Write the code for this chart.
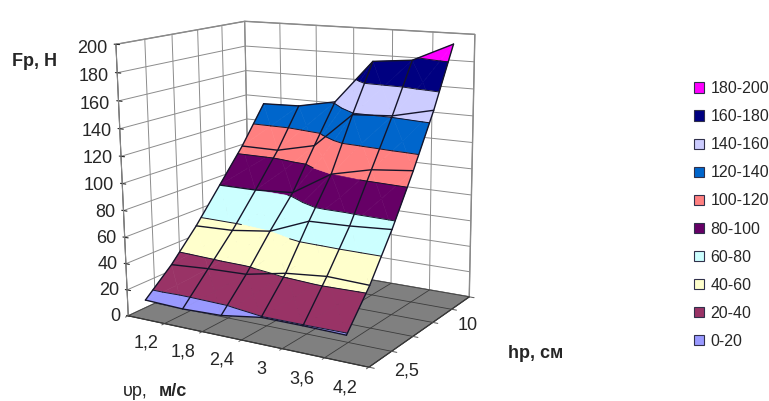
import numpy as np, seaborn as sns, matplotlib
matplotlib.use('Agg')
import matplotlib.pyplot as plt
from matplotlib.patches import Patch
from mpl_toolkits.mplot3d import proj3d
from mpl_toolkits.mplot3d.art3d import Poly3DCollection

speed_labels = ['1,2', '1,8', '2,4', '3', '3,6', '4,2']
depth_labels = ['2,5', '5', '7,5', '10', '12,5', '15']
force_ticks = [0, 20, 40, 60, 80, 100, 120, 140, 160, 180, 200]
force_h25 = [15, 14, 15, 19.5, 19.5, 19]
force_h50 = [33, 35, 36, 42, 45, 44]
force_h75 = [55, 56, 60, 72, 73, 75]
force_h100 = [80, 80, 82, 100, 107, 110]
force_h125 = [105, 105, 112, 139, 141, 148]
force_h150 = [134, 135, 141, 175, 178, 192]
band_labels = ['0-20','20-40','40-60','60-80','80-100','100-120','120-140','140-160','160-180','180-200']
band_colors = ['#9999FF','#993366','#FFFFCC','#CCFFFF','#660066','#FF8080','#0066CC','#CCCCFF','#000080','#FF00FF']

sns.set_style('white')
plt.rcParams['font.family'] = ['Liberation Sans', 'DejaVu Sans']
W, H = 769, 401
fig = plt.figure(figsize=(W/100, H/100), dpi=100)
ax = fig.add_subplot(projection='3d', computed_zorder=False)
ax.set_xlim(-0.5, 5.5); ax.set_ylim(0, 5); ax.set_zlim(0, 200)

# camera
ax.view_init(13.34, -58.62, 0.65)
ax.set_proj_type('persp', focal_length=0.529)
ax.set_box_aspect((1.001, 0.809, 1))
s, tx, ty = 2344.7, 300.3, 176.1
vl = ax.viewLim
S = s*vl.width
ax.set_position([(tx+s*vl.x0)/W, (H-ty+s*vl.y0)/H, S/W, S/H])
ax.patch.set_alpha(0)

def label3d(x, y, z, txt, **kw):
    px, py, _ = proj3d.proj_transform(x, y, z, ax.get_proj())
    ax.text2D(px, py, txt, transform=ax.transData, fontsize=13, zorder=8, **kw)

# panes
for a_ in (ax.xaxis, ax.yaxis):
    a_.set_pane_color((1, 1, 1, 1)); a_.pane.set_edgecolor('#808080')
ax.zaxis.set_pane_color('#808080'); ax.zaxis.pane.set_edgecolor('#808080')
ax.set_xticks(range(6), ['']*6)
ax.set_yticks(range(6), ['']*6)
ax.set_zticks(force_ticks, ['']*len(force_ticks))
ax.tick_params(axis='x', length=0); ax.tick_params(axis='y', length=0)
ax.xaxis._axinfo['tick'].update(inward_factor=0, outward_factor=0)
ax.yaxis._axinfo['tick'].update(inward_factor=0, outward_factor=0)
ax.zaxis._axinfo['juggled'] = (1, 2, 0)
ax.xaxis._axinfo['grid'].update(linewidth=0); ax.yaxis._axinfo['grid'].update(linewidth=0)
ax.zaxis._axinfo['grid'].update(color='#8c8c8c', linewidth=.7)
for i_, lab in enumerate(speed_labels):
    label3d(i_-.03, 0, -18.5, lab, ha='center', va='center')
for j_ in (0, 3):
    label3d(5.5+.726, j_+.203, 0, depth_labels[j_], ha='center', va='center')
for z_ in force_ticks:
    label3d(-.5-.143, -.103, z_*.985, str(z_), ha='right', va='center')
x_edges = np.arange(-.5, 6)
y_edges = np.arange(0, 6)
for e_ in x_edges:
    ax.plot([e_, e_], [5, 5], [0, 200], color='#8c8c8c', lw=.7, zorder=1)
    ax.plot([e_, e_], [0, 5], [0, 0], color='#3c3c3c', lw=.6, zorder=1)
    ax.plot([e_, e_], [0, -.1], [0, 0], color='#555555', lw=.7, zorder=1)
for e_ in y_edges:
    ax.plot([-.5, -.5], [e_, e_], [0, 200], color='#8c8c8c', lw=.7, zorder=1)
    ax.plot([-.5, 5.5], [e_, e_], [0, 0], color='#3c3c3c', lw=.6, zorder=1)
    ax.plot([5.5, 5.62], [e_, e_], [0, 0], color='#555555', lw=.7, zorder=1)

# surface bands
G = np.array([force_h25, force_h50, force_h75, force_h100, force_h125, force_h150], float)
levels = np.arange(0, 201, 20)
def clip(poly, lo, hi):
    for lim, sign in ((lo, 1), (hi, -1)):
        out = []
        for i in range(len(poly)):
            a_, b_ = poly[i], poly[(i+1) % len(poly)]
            da, db = sign*(a_[2]-lim), sign*(b_[2]-lim)
            if da >= 0: out.append(a_)
            if da*db < 0: out.append(a_+(b_-a_)*da/(da-db))
        poly = out
        if not poly: return []
    return poly
tris = []
for j in range(5):
    for i in range(5):
        c = [np.array([i+di, j+dj, G[j+dj, i+di]]) for di, dj in ((0,0),(1,0),(1,1),(0,1))]
        m = sum(c)/4
        for k in range(4):
            tris.append([c[k], c[(k+1) % 4], m])
polys, cols = [], []
for k in range(10):
    for t in tris:
        pl = clip(t, levels[k], levels[k+1])
        if len(pl) >= 3:
            polys.append(pl); cols.append(band_colors[k])
ax.add_collection3d(Poly3DCollection(polys, facecolors=cols, edgecolors=cols, linewidths=.4, zorder=5, shade=False))
line = '#15152a'
for lev in levels[1:]:
    for t in tris:
        pts = []
        for q in range(3):
            a_, b_ = t[q], t[(q+1) % 3]
            if (a_[2]-lev)*(b_[2]-lev) < 0:
                pts.append(a_+(b_-a_)*(lev-a_[2])/(b_[2]-a_[2]))
        if len(pts) == 2:
            ax.plot(*np.array(pts).T, color=line, lw=.7, zorder=6)
for j in range(6):
    ax.plot(range(6), [j]*6, G[j], color=line, lw=1.0, zorder=7)
    ax.plot([j]*6, range(6), G[:, j], color=line, lw=1.0, zorder=7)

handles = [Patch(facecolor=c, edgecolor='#30304a', lw=.8) for c in band_colors[::-1]]
fig.legend(handles, band_labels[::-1], loc='center left', bbox_to_anchor=(680/W, 1-215/H), frameon=False, fontsize=11.5,
           handlelength=.6, handleheight=.6, labelspacing=.82, handletextpad=.4)
fig.text(12/W, 1-62/H, 'Fp, H', fontsize=13, fontweight='bold', va='center')
fig.text(508/W, 1-353/H, 'hp, см', fontsize=13, fontweight='bold', va='center')
fig.text(123/W, 1-392/H, 'υp,', fontsize=13, va='center')
fig.text(159/W, 1-392/H, 'м/с', fontsize=13, fontweight='bold', va='center')
fig.savefig('out.png', dpi=100)
